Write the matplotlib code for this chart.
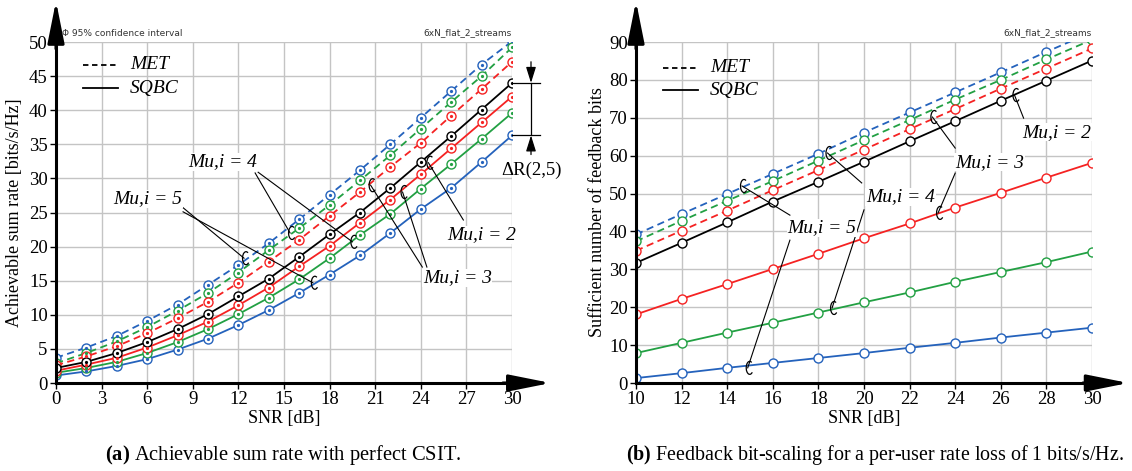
import matplotlib
matplotlib.use("Agg")
import matplotlib.pyplot as plt
from matplotlib.patches import Arc
from matplotlib.transforms import IdentityTransform
import numpy as np

plt.rcParams['font.family'] = ['Liberation Serif', 'DejaVu Serif']
plt.rcParams['mathtext.fontset'] = 'custom'
plt.rcParams['mathtext.rm'] = 'Liberation Serif'
plt.rcParams['mathtext.bf'] = 'Liberation Serif:bold'
plt.rcParams['mathtext.it'] = 'Liberation Serif:italic'

# ---------------- data ----------------
snr_a = [0, 2, 4, 6, 8, 10, 12, 14, 16, 18, 20, 22, 24, 26, 28, 30]
# SQBC (solid)
sq_a_m2 = [2.2, 3.1, 4.4, 6.0, 7.9, 10.1, 12.7, 15.3, 18.5, 21.8, 25.0, 28.6, 32.4, 36.2, 40.1, 44.0]
sq_a_m3 = [1.8, 2.7, 3.7, 5.2, 7.0, 9.0, 11.4, 14.0, 17.1, 20.1, 23.5, 26.9, 30.6, 34.4, 38.2, 42.0]
sq_a_m4 = [1.5, 2.2, 3.1, 4.4, 6.0, 7.9, 10.1, 12.5, 15.2, 18.3, 21.7, 24.8, 28.5, 32.1, 35.8, 39.6]
sq_a_m5 = [1.1, 1.7, 2.5, 3.5, 4.9, 6.5, 8.5, 10.7, 13.2, 15.9, 18.7, 22.0, 25.5, 28.6, 32.4, 36.3]
# MET (dashed)
met_a_m3 = [2.6, 3.9, 5.4, 7.3, 9.5, 11.9, 14.7, 17.8, 21.0, 24.5, 28.0, 31.7, 35.2, 39.2, 43.1, 47.1]
met_a_m4 = [2.9, 4.4, 6.1, 8.2, 10.6, 13.2, 16.2, 19.5, 22.7, 26.1, 29.7, 33.4, 37.3, 41.2, 45.0, 49.2]
met_a_m5 = [3.7, 5.2, 6.9, 9.1, 11.5, 14.4, 17.3, 20.5, 24.0, 27.6, 31.2, 35.0, 38.9, 42.8, 46.7, 50.1]

snr_b = [10, 12, 14, 16, 18, 20, 22, 24, 26, 28, 30]
sq_b_m2 = [31.7, 37.0, 42.4, 47.9, 53.1, 58.4, 63.8, 69.1, 74.5, 79.8, 85.1]
sq_b_m3 = [18.1, 22.2, 26.1, 30.1, 34.1, 38.2, 42.1, 46.3, 50.2, 54.2, 58.1]
sq_b_m4 = [7.9, 10.6, 13.3, 15.9, 18.6, 21.3, 23.9, 26.7, 29.3, 31.9, 34.7]
sq_b_m5 = [1.3, 2.6, 4.0, 5.3, 6.6, 7.9, 9.3, 10.6, 12.0, 13.3, 14.6]
met_b_m3 = [34.9, 40.2, 45.5, 50.9, 56.2, 61.6, 67.0, 72.3, 77.7, 83.0, 88.3]
met_b_m4 = [37.4, 42.8, 48.1, 53.3, 58.7, 64.1, 69.4, 74.8, 80.0, 85.4, 90.6]
met_b_m5 = [39.2, 44.6, 49.9, 55.2, 60.5, 66.1, 71.4, 76.7, 82.0, 87.4, 92.6]

BLUE = '#2462bc'
GREEN = '#22a043'
RED = '#f52222'
BLACK = '#000000'
GRID = '#c4c4c4'
SERIF = 'Liberation Serif'

W, H = 1132, 471
fig = plt.figure(figsize=(W / 100, H / 100), dpi=100)


def px_axes(x0, y_top, w, h):
    return [x0 / W, (H - y_top - h) / H, w / W, h / H]


axA = fig.add_axes(px_axes(56, 42, 456, 341))
axB = fig.add_axes(px_axes(636, 42, 456, 341))

TICKFS = 13.5
ARROW = dict(arrowstyle='-|>,head_length=1.5,head_width=0.3', lw=2.2, color='k',
             shrinkA=0, shrinkB=0, mutation_scale=17)


def style_axes(ax, xlim, ylim, xt, yt):
    ax.set_xlim(*xlim)
    ax.set_ylim(*ylim)
    ax.set_xticks(xt)
    ax.set_yticks(yt)
    ax.grid(True, color=GRID, lw=1.0, zorder=0)
    ax.set_axisbelow(True)
    for s in ['top', 'right']:
        ax.spines[s].set_visible(False)
    for s in ['left', 'bottom']:
        ax.spines[s].set_linewidth(2.2)
        ax.spines[s].set_zorder(6)
    ax.tick_params(direction='out', length=4, width=1, labelsize=TICKFS, pad=2)
    ax.annotate('', xy=(0, 1.12), xytext=(0, 0.98), xycoords='axes fraction',
                arrowprops=ARROW)


style_axes(axA, (0, 30), (0, 50), np.arange(0, 31, 3), np.arange(0, 51, 5))
style_axes(axB, (10, 30), (0, 90), np.arange(10, 31, 2), np.arange(0, 91, 10))
axA.annotate('', xy=(1.085, 0), xytext=(0.98, 0), xycoords='axes fraction', arrowprops=ARROW)
axB.annotate('', xy=(1.08, 0), xytext=(0.98, 0), xycoords='axes fraction', arrowprops=ARROW)


def curve(ax, x, y, color, ls, dot):
    line, = ax.plot(x, y, color=color, lw=1.3, marker='o', markersize=6.5,
                    markerfacecolor='white', markeredgecolor=color, markeredgewidth=1.0,
                    zorder=3)
    if ls == '--':
        line.set_dashes((4, 2.5))
    if dot:
        ax.plot(x, y, ls='none', marker='o', markersize=1.3, color=color, zorder=4)


for y, c in [(met_a_m5, BLUE), (met_a_m4, GREEN), (met_a_m3, RED)]:
    curve(axA, snr_a, y, c, '--', True)
for y, c in [(sq_a_m5, BLUE), (sq_a_m4, GREEN), (sq_a_m3, RED), (sq_a_m2, BLACK)]:
    curve(axA, snr_a, y, c, '-', True)

for y, c in [(met_b_m5, BLUE), (met_b_m4, GREEN), (met_b_m3, RED)]:
    curve(axB, snr_b, y, c, '--', False)
for y, c in [(sq_b_m5, BLUE), (sq_b_m4, GREEN), (sq_b_m3, RED), (sq_b_m2, BLACK)]:
    curve(axB, snr_b, y, c, '-', False)

# axis labels
axA.set_xlabel('SNR [dB]', fontsize=13, labelpad=1)
axA.set_ylabel('Achievable sum rate [bits/s/Hz]', fontsize=13, labelpad=4)
axB.set_xlabel('SNR [dB]', fontsize=13, labelpad=1)
axB.set_ylabel('Sufficient number of feedback bits', fontsize=13, labelpad=2)

# legends (custom)
for ax, y1, y2 in [(axA, 0.933, 0.865), (axB, 0.924, 0.859)]:
    l1, = ax.plot([0.059, 0.136], [y1, y1], transform=ax.transAxes, color='k', lw=1.3,
                  ls='--', zorder=5)
    l1.set_dashes((3, 2))
    ax.plot([0.059, 0.136], [y2, y2], transform=ax.transAxes, color='k', lw=1.3, zorder=5)
    ax.text(0.162, y1, 'MET', transform=ax.transAxes, fontsize=14, family=SERIF,
            style='italic', va='center', ha='left')
    ax.text(0.162, y2, 'SQBC', transform=ax.transAxes, fontsize=14, family=SERIF,
            style='italic', va='center', ha='left')

# small header texts
fig.text(62 / W, 1 - 33 / H, '\u03a6 95% confidence interval', fontsize=6.5,
         family='DejaVu Sans', color='#333333', va='center', ha='left')
for xr in [512, 1092]:
    fig.text(xr / W, 1 - 33 / H, '6xN_flat_2_streams', fontsize=6.5,
             family='DejaVu Sans', color='#333333', va='center', ha='right')


# annotations
def cmark(ax, x, y):
    px, py = ax.transData.transform((x, y))
    a = Arc((px + 2, py), 7, 13, theta1=70, theta2=300, transform=IdentityTransform(),
            color='k', lw=0.9, zorder=7, clip_on=False)
    fig.add_artist(a)


def label(ax, tx, ty, num, links):
    for (sx, sy, ex, ey) in links:
        ax.plot([sx, ex], [sy, ey], color='k', lw=0.8, zorder=6, clip_on=False)
        cmark(ax, ex, ey)
    ax.text(tx, ty, 'Mu,i = %d' % num, fontsize=14, family=SERIF, style='italic',
            ha='center', va='center', zorder=8,
            bbox=dict(facecolor='white', edgecolor='none', pad=0.5))


label(axA, 6.05, 27.0, 5, [(8.36, 25.7, 12.37, 18.3), (8.36, 25.1, 16.9, 14.7)])
label(axA, 10.99, 32.4, 4, [(13.1, 30.8, 15.4, 22.0), (13.3, 30.9, 19.5, 20.7)])
label(axA, 26.4, 15.4, 3, [(24.1, 17.0, 20.7, 29.0), (24.4, 17.0, 22.8, 28.0)])
label(axA, 28.0, 21.7, 2, [(26.8, 23.9, 24.5, 32.3)])

label(axB, 28.46, 66.2, 2, [(27.0, 69.9, 26.6, 76.0)])
label(axB, 25.5, 58.3, 3, [(24.0, 62.0, 23.0, 70.2), (24.0, 55.4, 23.25, 44.9)])
label(axB, 21.6, 49.1, 4, [(19.9, 52.8, 18.4, 60.7), (20.0, 45.7, 18.6, 19.8)])
label(axB, 18.16, 40.9, 5, [(16.75, 44.3, 14.65, 52.0), (16.75, 37.7, 14.9, 4.0)])

# Delta R annotation
xa = 31.25
axA.plot([30, 31.85], [sq_a_m2[-1]] * 2, color='k', lw=0.9, clip_on=False, zorder=5)
axA.plot([30, 31.85], [sq_a_m5[-1]] * 2, color='k', lw=0.9, clip_on=False, zorder=5)
SMALL = dict(arrowstyle='-|>,head_length=0.8,head_width=0.25', lw=0.9, color='k',
             shrinkA=0, shrinkB=0, mutation_scale=12)
axA.annotate('', xy=(xa, sq_a_m2[-1]), xytext=(xa, 47.1), annotation_clip=False,
             arrowprops=SMALL)
axA.annotate('', xy=(xa, sq_a_m5[-1]), xytext=(xa, 33.5), annotation_clip=False,
             arrowprops=SMALL)
axA.plot([xa, xa], [sq_a_m2[-1], sq_a_m5[-1]], color='k', lw=0.9, clip_on=False)
axA.text(31.3, 31.2, '\u0394R(2,5)', fontsize=13.5, ha='center', va='center',
         clip_on=False)

# captions
fig.text(283 / W, 1 - 455 / H, r'$\mathbf{(a)}$ Achievable sum rate with perfect CSIT.',
         fontsize=14.8, ha='center', va='center')
fig.text(875 / W, 1 - 455 / H,
         r'$\mathbf{(b)}$ Feedback bit-scaling for a per-user rate loss of 1 bits/s/Hz.',
         fontsize=14.4, ha='center', va='center')

fig.savefig('out.png', dpi=100)
